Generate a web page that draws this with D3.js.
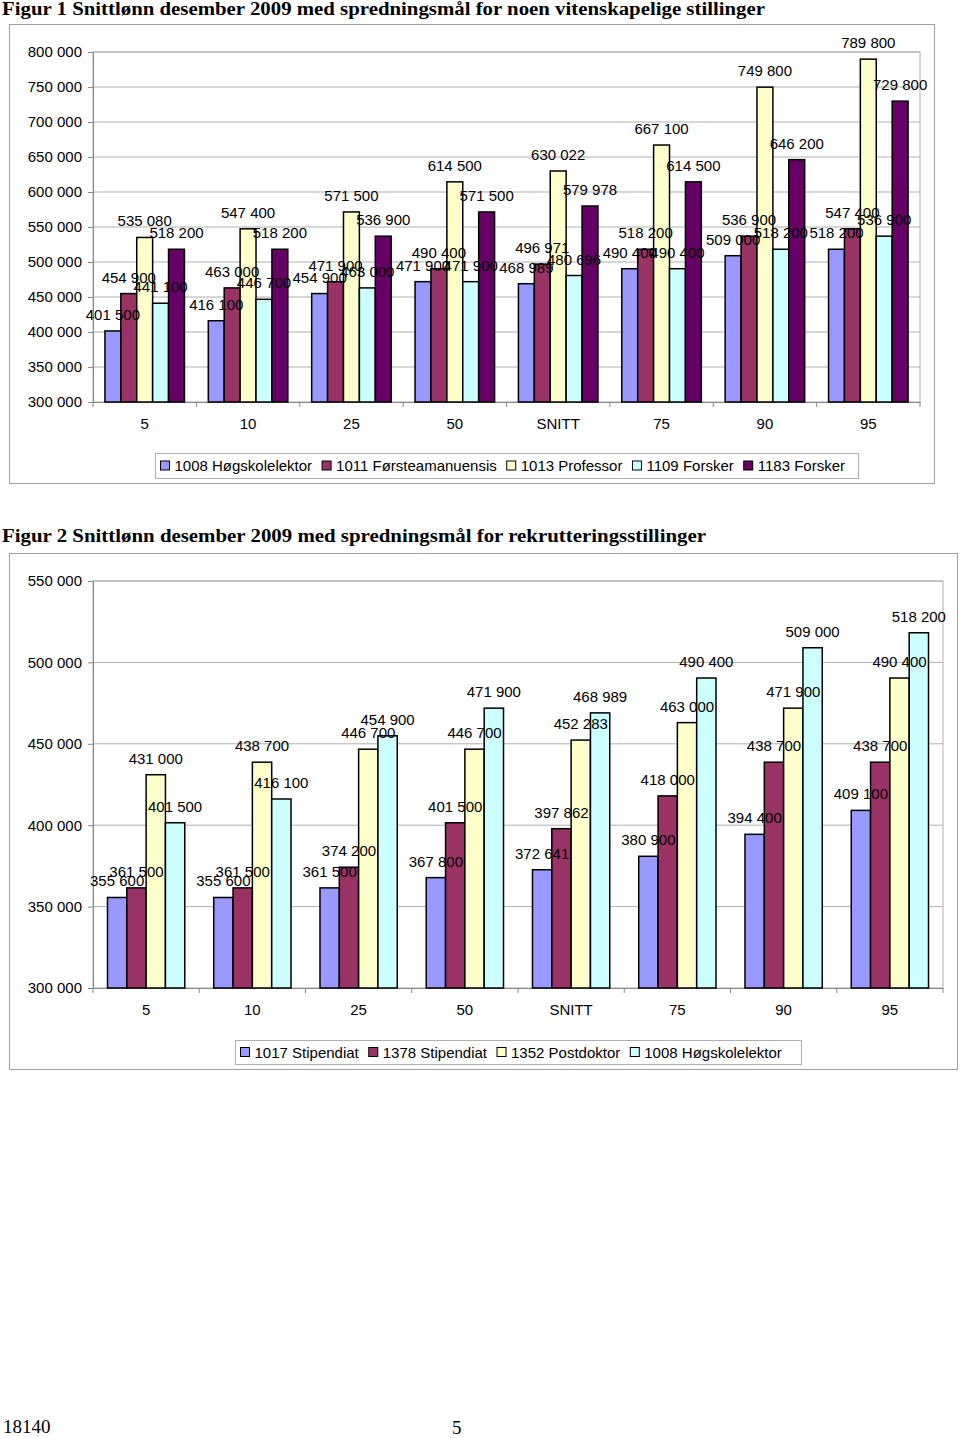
<!DOCTYPE html>
<html>
<head>
<meta charset="utf-8">
<script src="https://cdn.jsdelivr.net/npm/d3@7"></script>
<style>
body { margin: 0; background: #fff; }
text { font-family: "Liberation Sans", Arial, sans-serif; }
.title { font-family: "Liberation Serif", "DejaVu Serif", serif; font-weight: bold; }
.grid line { stroke: #b0b0b0; }
</style>
</head>
<body>
<div id="chart"></div>
<script>
// Data
const categories = ["5", "10", "25", "50", "SNITT", "75", "90", "95"];

// Figur 1
const fig1Series = ["1008 Høgskolelektor", "1011 Førsteamanuensis", "1013 Professor", "1109 Forsker", "1183 Forsker"];
const hogskolelektor1 = [401500, 416100, 454900, 471900, 468989, 490400, 509000, 518200];
const forsteamanuensis = [454900, 463000, 471900, 490400, 496971, 518200, 536900, 547400];
const professor = [535080, 547400, 571500, 614500, 630022, 667100, 749800, 789800];
const forsker1109 = [441100, 446700, 463000, 471900, 480696, 490400, 518200, 536900];
const forsker1183 = [518200, 518200, 536900, 571500, 579978, 614500, 646200, 729800];
const fig1Ticks = [300000, 350000, 400000, 450000, 500000, 550000, 600000, 650000, 700000, 750000, 800000];

// Figur 2
const fig2Series = ["1017 Stipendiat", "1378 Stipendiat", "1352 Postdoktor", "1008 Høgskolelektor"];
const stipendiat1017 = [355600, 355600, 361500, 367800, 372641, 380900, 394400, 409100];
const stipendiat1378 = [361500, 361500, 374200, 401500, 397862, 418000, 438700, 438700];
const postdoktor = [431000, 438700, 446700, 446700, 452283, 463000, 471900, 490400];
const hogskolelektor2 = [401500, 416100, 454900, 471900, 468989, 490400, 509000, 518200];
const fig2Ticks = [300000, 350000, 400000, 450000, 500000, 550000];

const fig1Colors = ["#9999ff", "#993366", "#ffffcc", "#ccffff", "#660066"];
const fig2Colors = ["#9999ff", "#993366", "#ffffcc", "#ccffff"];

const fmt = v => d3.format(",")(v).replace(/,/g, " ");
const FS = 15;

const svg = d3.select("#chart")
    .append("svg")
    .attr("width", 960)
    .attr("height", 1438);

function drawChart(opt) {
    const g = svg.append("g");

    // Title
    g.append("text")
        .attr("class", "title")
        .attr("x", opt.titleX)
        .attr("y", opt.titleY)
        .attr("font-size", 18)
        .attr("textLength", opt.titleLen)
        .attr("lengthAdjust", "spacingAndGlyphs")
        .text(opt.title);

    // Outer box
    g.append("rect")
        .attr("x", opt.box[0]).attr("y", opt.box[1])
        .attr("width", opt.box[2]).attr("height", opt.box[3])
        .attr("fill", "#fff")
        .attr("stroke", "#a0a0a0");

    const x = d3.scaleBand()
        .domain(categories)
        .range([opt.plot.left, opt.plot.right]);

    // Excel gap width 150%: bars fill n/(n+1.5) of band
    const n = opt.series.length;
    const barW = x.bandwidth() / (n + 1.5);
    const barX = i => 0.75 * barW + i * barW;

    const y = d3.scaleLinear()
        .domain(opt.domain)
        .range([opt.plot.bottom, opt.plot.top]);

    // Plot area border
    g.append("rect")
        .attr("x", opt.plot.left).attr("y", opt.plot.top)
        .attr("width", opt.plot.right - opt.plot.left)
        .attr("height", opt.plot.bottom - opt.plot.top)
        .attr("fill", "none")
        .attr("stroke", "#b0b0b0");

    // Gridlines
    g.append("g")
        .attr("class", "grid")
        .selectAll("line")
        .data(opt.ticks.slice(1))
        .enter()
        .append("line")
        .attr("x1", opt.plot.left).attr("x2", opt.plot.right)
        .attr("y1", d => y(d)).attr("y2", d => y(d));

    // Y axis
    const yAxis = g.append("g")
        .attr("transform", `translate(${opt.plot.left},0)`)
        .call(d3.axisLeft(y).tickValues(opt.ticks).tickFormat(fmt).tickSize(5).tickPadding(6));
    yAxis.select(".domain").attr("stroke", "#888");
    yAxis.selectAll(".tick line").attr("stroke", "#888");
    yAxis.selectAll("text").attr("font-size", FS).attr("fill", "#000")
        .style("font-family", "'Liberation Sans', Arial, sans-serif");

    // X axis
    const xAxis = g.append("g")
        .attr("transform", `translate(0,${opt.plot.bottom})`)
        .call(d3.axisBottom(x).tickSize(0).tickPadding(16));
    xAxis.select(".domain").attr("stroke", "#888");
    xAxis.selectAll("text").attr("font-size", FS).attr("fill", "#000")
        .style("font-family", "'Liberation Sans', Arial, sans-serif");
    // Tick marks between categories
    g.append("g")
        .selectAll("line")
        .data(d3.range(categories.length + 1))
        .enter()
        .append("line")
        .attr("x1", i => opt.plot.left + i * x.step())
        .attr("x2", i => opt.plot.left + i * x.step())
        .attr("y1", opt.plot.bottom)
        .attr("y2", opt.plot.bottom + 5)
        .attr("stroke", "#888");

    // Bars
    const groups = g.selectAll(".grp")
        .data(categories)
        .enter()
        .append("g")
        .attr("transform", d => `translate(${x(d)},0)`);

    opt.values.forEach((vals, si) => {
        groups.append("rect")
            .attr("x", barX(si))
            .attr("y", (d, ci) => y(vals[ci]))
            .attr("width", barW)
            .attr("height", (d, ci) => opt.plot.bottom - y(vals[ci]))
            .attr("fill", opt.colors[si])
            .attr("stroke", "#000")
            .attr("stroke-width", 1.5);
    });

    // Value labels
    opt.values.forEach((vals, si) => {
        groups.append("text")
            .attr("x", barX(si) + barW / 2)
            .attr("y", (d, ci) => y(vals[ci]) - 11)
            .attr("text-anchor", "middle")
            .attr("font-size", FS)
            .text((d, ci) => fmt(vals[ci]));
    });

    // Legend
    const lg = g.append("g");
    lg.append("rect")
        .attr("x", opt.legend[0]).attr("y", opt.legend[1])
        .attr("width", opt.legend[2]).attr("height", opt.legend[3])
        .attr("fill", "#fff")
        .attr("stroke", "#b0b0b0");
    let lx = opt.legend[0] + 5;
    const ly = opt.legend[1] + opt.legend[3] / 2;
    opt.series.forEach((s, i) => {
        lg.append("rect")
            .attr("x", lx).attr("y", ly - 5)
            .attr("width", 9).attr("height", 9)
            .attr("fill", opt.colors[i])
            .attr("stroke", "#000");
        const t = lg.append("text")
            .attr("x", lx + 14)
            .attr("y", ly + 5)
            .attr("font-size", FS)
            .text(s);
        lx += 14 + t.node().getComputedTextLength() + 10;
    });
}

drawChart({
    title: "Figur 1 Snittlønn desember 2009 med spredningsmål for noen vitenskapelige stillinger",
    titleX: 2, titleY: 15, titleLen: 763,
    box: [9.5, 24.5, 925, 459],
    plot: { left: 93, right: 920, top: 52, bottom: 402 },
    domain: [300000, 800000],
    ticks: fig1Ticks,
    series: fig1Series,
    values: [hogskolelektor1, forsteamanuensis, professor, forsker1109, forsker1183],
    colors: fig1Colors,
    legend: [155.5, 453.5, 703, 25]
});

drawChart({
    title: "Figur 2 Snittlønn desember 2009 med spredningsmål for rekrutteringsstillinger",
    titleX: 2, titleY: 542, titleLen: 704,
    box: [9.5, 553.5, 948, 516],
    plot: { left: 93, right: 943, top: 581, bottom: 988 },
    domain: [300000, 550000],
    ticks: fig2Ticks,
    series: fig2Series,
    values: [stipendiat1017, stipendiat1378, postdoktor, hogskolelektor2],
    colors: fig2Colors,
    legend: [235.5, 1040.5, 566, 24]
});

// Footer
svg.append("text").attr("class", "title").style("font-weight", "normal")
    .attr("x", 3).attr("y", 1433).attr("font-size", 19).text("18140");
svg.append("text").attr("class", "title").style("font-weight", "normal")
    .attr("x", 452).attr("y", 1434).attr("font-size", 19).text("5");
</script>
</body>
</html>
